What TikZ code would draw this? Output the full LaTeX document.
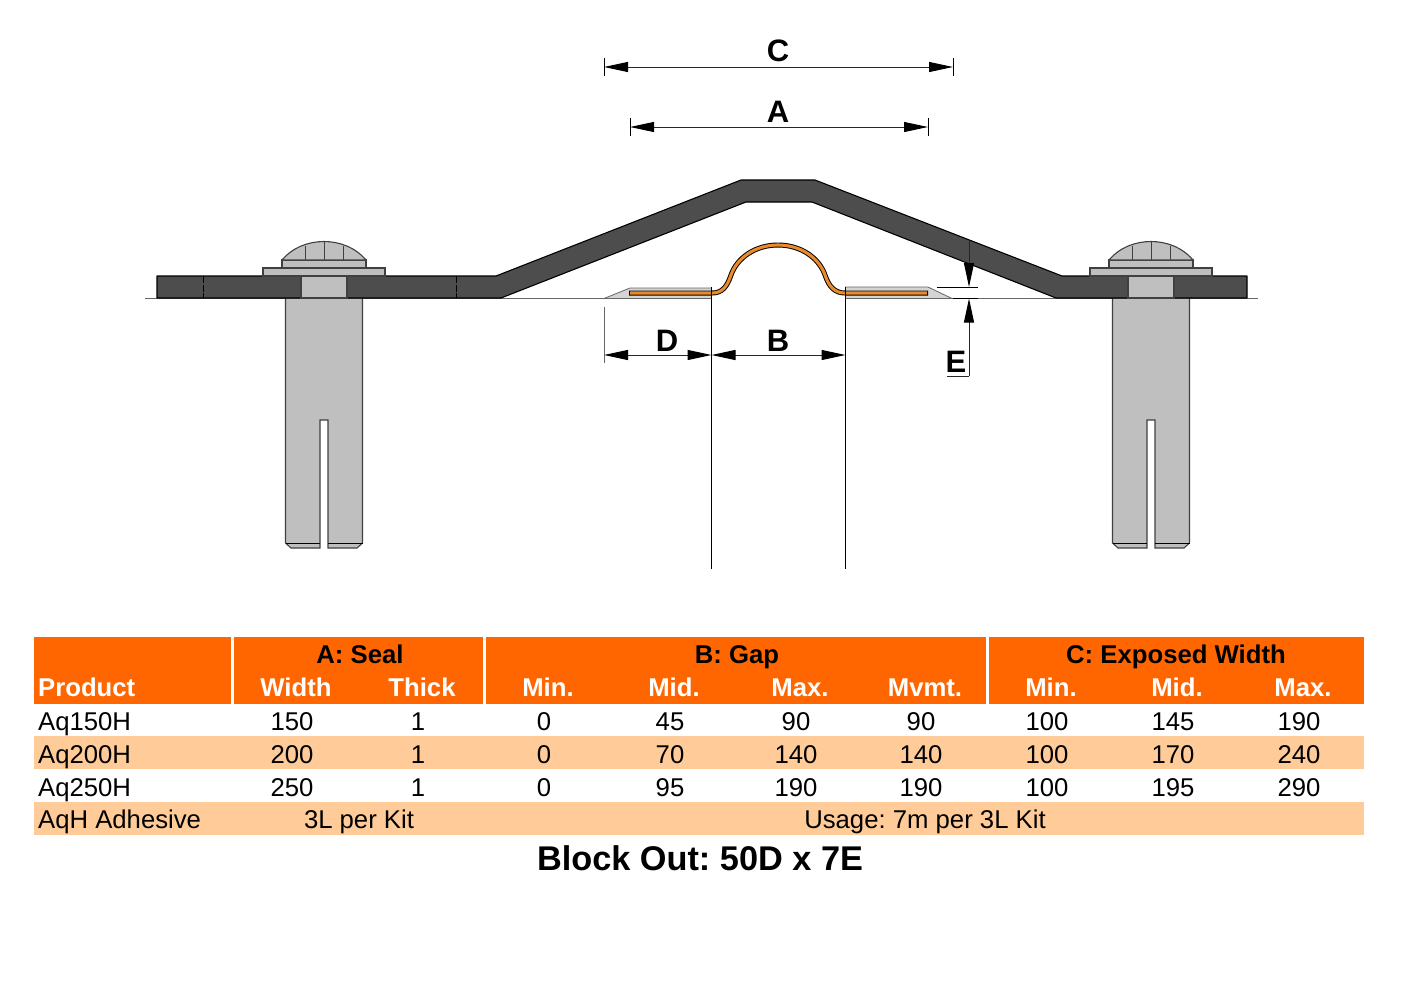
\documentclass[tikz,border=0pt]{standalone}
\usepackage{fontspec}
\setmainfont{Liberation Sans}
\frenchspacing
\usetikzlibrary{arrows.meta}
\definecolor{headorange}{HTML}{FF6600}
\definecolor{rowpeach}{HTML}{FFCC99}
\definecolor{platedark}{HTML}{4D4D4D}
\definecolor{boltgrey}{HTML}{BFBFBF}
\definecolor{sealorange}{HTML}{E98A2B}
\definecolor{nosegrey}{HTML}{D4D4D4}
\begin{document}
\begin{tikzpicture}[
	x=1pt, y=-1pt,
	% Styles for the drawing
	plate style/.style={draw=black, fill=platedark, line width=1.1pt, line join=round},
	bolt style/.style={draw=black!75, fill=boltgrey, line width=1.1pt},
	thin line/.style={draw=black, line width=0.7pt},
	dim line/.style={draw=black!85, line width=1pt, {Triangle[length=24pt,width=10pt,color=black]}-{Triangle[length=24pt,width=10pt,color=black]}},
	dim arrow/.style={draw=black!85, line width=1pt, -{Triangle[length=24pt,width=10pt,color=black]}},
	dim label/.style={font=\fontsize{31}{31}\selectfont\bfseries, anchor=base, inner sep=0pt},
	% Styles for the table
	data text/.style={font=\fontsize{25.7}{26}\selectfont, anchor=base, inner sep=0pt},
	row text/.style={data text, anchor=base west},
	head text/.style={font=\fontsize{25.7}{26}\selectfont\bfseries, anchor=base, inner sep=0pt},
	head white/.style={head text, text=white}
	]
	\useasboundingbox (0,0) rectangle (1402,991);
	
	% --- Reference line on the substrate ---
	\coordinate (lineA) at (145,298.5);
	\coordinate (lineB) at (712,298.5);
	\coordinate (lineC) at (845,298.5);
	\coordinate (lineD) at (1258,298.5);
	\draw[draw=black!60, line width=0.9pt] (lineA) -- (lineB);
	\draw[draw=black!60, line width=0.9pt] (lineC) -- (lineD);
	
	% --- Anchor bolts ---
	\foreach \bx in {324,1151} {
		\begin{scope}[xshift=\bx pt]
			\draw[bolt style] (-38.5,298) -- (-38.5,543) -- (-33,548) -- (-4,548) -- (-4,420) -- (4,420) -- (4,548) -- (33,548) -- (38.5,543) -- (38.5,298) -- cycle;
			\draw[draw=black, line width=0.9pt] (-38.5,543) -- (-4,543) (4,543) -- (38.5,543);
		\end{scope}
	}
	
	% --- Cover plate ---
	\draw[plate style] (157,276) -- (496,276) -- (741,180) -- (815,180) -- (1062,276) -- (1247,276) -- (1247,298) -- (1056,298) -- (812,202) -- (746,202) -- (501,298) -- (157,298) -- cycle;
	\draw[draw=black, line width=1pt, dashed, dash pattern=on 7pt off 1.5pt] (203,276) -- (203,298);
	\draw[draw=black, line width=1pt, dashed, dash pattern=on 7pt off 1.5pt] (456,276) -- (456,298);
	
	% --- Bolt heads ---
	\foreach \bx in {324,1151} {
		\begin{scope}[xshift=\bx pt]
			\draw[bolt style] (-23,276) rectangle (23,298);
			\draw[bolt style] (-61,268) rectangle (61,276);
			\draw[bolt style] (-42,260) rectangle (42,268);
			\draw[bolt style] (-42,260) .. controls (-31,247) and (-15,241.5) .. (0,241.5) .. controls (15,241.5) and (31,247) .. (42,260) -- cycle;
			\draw[draw=black!75, line width=1pt] (-19,245.5) -- (-19,260) (0,241.5) -- (0,260) (19,245.5) -- (19,260);
		\end{scope}
	}
	
	% --- Nosing blocks ---
	\draw[draw=black!60, fill=nosegrey, line width=0.8pt] (604,298.5) -- (630,288) -- (711.5,288) -- (711.5,298.5) -- cycle;
	\draw[draw=black!60, fill=nosegrey, line width=0.8pt] (845.5,287) -- (928,287) -- (952,298.5) -- (845.5,298.5) -- cycle;
	
	% --- Seal ---
	\path[draw=black, line width=5pt]
		(629,293) -- (712,293) .. controls (722,293) and (727,287) .. (731,275) .. controls (737,258) and (755,245) .. (778,245) .. controls (801,245) and (819,258) .. (825,275) .. controls (829,287) and (835,293) .. (845,293) -- (928,293);
	\path[draw=sealorange, line width=3.1pt]
		(630,293) -- (712,293) .. controls (722,293) and (727,287) .. (731,275) .. controls (737,258) and (755,245) .. (778,245) .. controls (801,245) and (819,258) .. (825,275) .. controls (829,287) and (835,293) .. (845,293) -- (927,293);
	
	% --- Gap lines ---
	\coordinate (gapLtop) at (711.5,287);
	\coordinate (gapLend) at (711.5,569);
	\coordinate (gapRtop) at (845.5,287);
	\coordinate (gapRend) at (845.5,569);
	\draw[thin line] (gapLtop) -- (gapLend);
	\draw[thin line] (gapRtop) -- (gapRend);
	
	% --- Dimensions C and A ---
	\coordinate (cL) at (604,67);
	\coordinate (cR) at (953,67);
	\coordinate (aL) at (630,127);
	\coordinate (aR) at (928,127);
	\draw[dim line] (cL) -- (cR);
	\draw[dim line] (aL) -- (aR);
	\draw[thin line] (604,58) -- (604,76) (953,58) -- (953,76);
	\draw[thin line] (630,118) -- (630,136) (928,118) -- (928,136);
	\node[dim label] (labelC) at (778,61) {C};
	\node[dim label] (labelA) at (778,122) {A};
	
	% --- Dimensions D and B ---
	\coordinate (dL) at (604,355);
	\coordinate (dR) at (711.5,355);
	\coordinate (bR) at (845.5,355);
	\draw[dim line] (dL) -- (dR);
	\draw[dim line] (dR) -- (bR);
	\draw[draw=black!60, line width=0.8pt] (604,307) -- (604,363);
	\node[dim label] (labelD) at (667,351) {D};
	\node[dim label] (labelB) at (778,351) {B};
	
	% --- Dimension E ---
	\coordinate (eTop) at (969,240);
	\coordinate (eUp) at (969,287);
	\coordinate (eLow) at (969,298.5);
	\coordinate (eEnd) at (969,376);
	\coordinate (eFoot) at (947,376);
	\draw[dim arrow] (eTop) -- (eUp);
	\draw[dim arrow] (eEnd) -- (eLow);
	\draw[draw=black!85, line width=1pt] (eEnd) -- (eFoot);
	\draw[thin line] (937,287) -- (978,287);
	\draw[thin line] (953,298.5) -- (978,298.5);
	\node[dim label] (labelE) at (956,372) {E};
	
	% --- Table bands ---
	\fill[headorange] (34,637) rectangle (231,704);
	\fill[headorange] (234,637) rectangle (483,704);
	\fill[headorange] (486,637) rectangle (986,704);
	\fill[headorange] (989,637) rectangle (1364,704);
	\fill[rowpeach] (34,736) rectangle (1364,769);
	\fill[rowpeach] (34,802) rectangle (1364,835);
	
	% --- Table head ---
	\node[head text] (headA) at (360,663.5) {A: Seal};
	\node[head text] (headB) at (737,663.5) {B: Gap};
	\node[head text] (headC) at (1176,663.5) {C: Exposed Width};
	\node[head white, anchor=base west] (product) at (38,696.5) {Product};
	\foreach \cx/\ctext [count=\ci] in {296/Width,422/Thick,548/Min.,674/Mid.,800/Max.,925/Mvmt.,1051/Min.,1177/Mid.,1303/Max.}
		\node[head white] (col\ci) at (\cx,696.5) {\ctext};
	
	% --- Table rows ---
	\foreach \ry/\rname/\va/\vb/\vc/\vd/\ve/\vf/\vg/\vh/\vi [count=\ri] in {
		730/Aq150H/150/1/0/45/90/90/100/145/190,
		763/Aq200H/200/1/0/70/140/140/100/170/240,
		796/Aq250H/250/1/0/95/190/190/100/195/290} {
		\node[row text] (row\ri) at (38,\ry) {\rname};
		\node[data text] (val\ri a) at (292,\ry) {\va};
		\node[data text] (val\ri b) at (418,\ry) {\vb};
		\node[data text] (val\ri c) at (544,\ry) {\vc};
		\node[data text] (val\ri d) at (670,\ry) {\vd};
		\node[data text] (val\ri e) at (796,\ry) {\ve};
		\node[data text] (val\ri f) at (921,\ry) {\vf};
		\node[data text] (val\ri g) at (1047,\ry) {\vg};
		\node[data text] (val\ri h) at (1173,\ry) {\vh};
		\node[data text] (val\ri i) at (1299,\ry) {\vi};
	}
	\node[row text] (adhesive) at (38,828.5) {AqH Adhesive};
	\node[data text] (perkit) at (359,828.5) {3L per Kit};
	\node[data text] (usage) at (925,828.5) {Usage: 7m per 3L Kit};
	
	% --- Title under the table ---
	\node[font=\fontsize{34.3}{35}\selectfont\bfseries, anchor=base, inner sep=0pt] (blockout) at (700,870) {Block Out: 50D x 7E};
\end{tikzpicture}
\end{document}
